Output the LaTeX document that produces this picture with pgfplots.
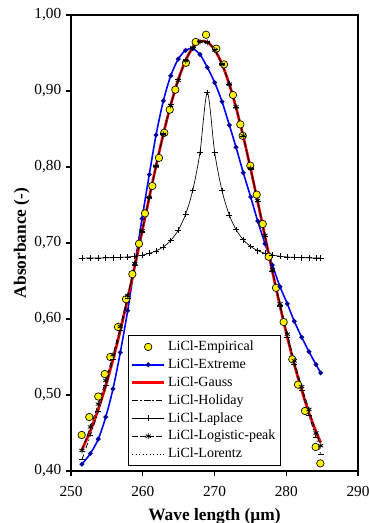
\documentclass[border=0pt]{standalone}
\usepackage{fontspec}
\setmainfont{Liberation Serif}
\usepackage{pgfplots}
\pgfplotsset{compat=1.18}
\usepackage{pgfplotstable}
\pgfplotstableread{
x y
251.49 0.4474
252.55 0.471
253.80 0.498
254.70 0.5276
255.48 0.550
256.55 0.5895
257.67 0.626
258.55 0.659
259.48 0.699
260.31 0.739
261.33 0.775
262.26 0.812
263.00 0.845
263.76 0.8754
264.54 0.9017
266.03 0.9372
267.38 0.9645
268.82 0.974
270.25 0.9557
271.32 0.935
272.58 0.8947
273.60 0.856
273.93 0.841
274.99 0.8017
275.88 0.7636
276.72 0.725
277.55 0.682
278.57 0.641
279.64 0.596
280.84 0.547
281.64 0.5136
282.61 0.479
284.10 0.4316
284.75 0.410
}\empirical
\pgfplotstableread{
x extreme gauss holiday laplace logistic lorentz
251.53 0.409  0.4281 0.415  0.6801 0.427  0.4281
252.70 0.423  0.4529 0.447  0.6802 0.458  0.4529
253.80 0.442  0.4811 0.478  0.6803 0.488  0.4811
254.84 0.471  0.5122 0.5122 0.6804 0.519  0.5122
255.85 0.508  0.5464 0.5464 0.6807 0.553  0.5464
256.87 0.556  0.5847 0.5847 0.6811 0.590  0.5847
257.90 0.611  0.6268 0.6268 0.6817 0.631  0.6268
258.90 0.672  0.6700 0.6700 0.6826 0.673  0.6700
259.90 0.732  0.7146 0.7146 0.6840 0.716  0.7146
260.91 0.790  0.7600 0.7600 0.6863 0.760  0.7600
261.85 0.842  0.8012 0.8012 0.6895 0.801  0.8012
262.87 0.887  0.8434 0.8434 0.6948 0.843  0.8434
263.90 0.920  0.8818 0.8818 0.7033 0.881  0.8818
264.95 0.942  0.9150 0.9150 0.7169 0.914  0.9150
265.98 0.9535 0.9404 0.9404 0.7380 0.940  0.9404
266.96 0.9557 0.9568 0.9568 0.7691 0.957  0.9568
267.98 0.948  0.9652 0.9652 0.8194 0.965  0.9652
269.00 0.931  0.9644 0.9644 0.8980 0.964  0.9644
270.03 0.911  0.9542 0.9542 0.8188 0.954  0.9542
271.05 0.886  0.9354 0.9354 0.7687 0.935  0.9354
272.07 0.855  0.9087 0.9087 0.7367 0.909  0.9087
273.00 0.826  0.8783 0.8783 0.7177 0.879  0.8783
274.01 0.7925 0.8402 0.8402 0.7042 0.841  0.8402
275.04 0.7605 0.7973 0.7973 0.6954 0.798  0.7973
276.02 0.729  0.7542 0.7542 0.6900 0.756  0.7542
277.04 0.699  0.7083 0.7083 0.6864 0.710  0.7083
278.06 0.671  0.6629 0.6629 0.6841 0.665  0.6629
279.13 0.6425 0.6171 0.6171 0.6826 0.620  0.6171
280.15 0.620  0.5761 0.5761 0.6816 0.580  0.5761
281.12 0.597  0.5403 0.5403 0.6811 0.545  0.5403
282.15 0.576  0.5062 0.5062 0.6807 0.511  0.5062
283.17 0.557  0.4765 0.473  0.6804 0.481  0.4765
284.15 0.540  0.4518 0.444  0.6803 0.450  0.4518
284.80 0.529  0.4375 0.422  0.6802 0.4333 0.4375
}\fits
\begin{document}
\begin{tikzpicture}
\useasboundingbox (-53.25pt,-39pt) rectangle (222.75pt,353.25pt);
\begin{axis}[
  at={(0,0)}, anchor=south west,
  width=215.25pt, height=342pt, scale only axis,
  xmin=250, xmax=290, ymin=0.4, ymax=1.0,
  xtick={250,260,270,280,290},
  ytick={0.4,0.5,0.6,0.7,0.8,0.9,1.0},
  xtick pos=lower, ytick pos=left,
  tick align=outside, major tick length=3.75pt,
  tick style={black, line width=0.8pt},
  axis line style={line width=1.1pt},
  /pgf/number format/assume math mode=true,
  xticklabel style={font=\fontsize{11.5}{13}\selectfont, yshift=-4pt, /pgf/number format/1000 sep={}},
  yticklabel style={font=\fontsize{11.5}{13}\selectfont, /pgf/number format/.cd, fixed, fixed zerofill, precision=2, use comma},
  xlabel={\textbf{Wave length (µm)}},
  ylabel={\textbf{Absorbance (-)}},
  xlabel style={font=\fontsize{13}{15}\selectfont, at={(axis description cs:0.5,-0.1)}, anchor=center},
  ylabel style={font=\fontsize{13}{15}\selectfont, at={(axis description cs:-0.172,0.5)}, anchor=center},
  legend style={at={(rel axis cs:0.1976,0.0116)}, anchor=south west, draw=black, line width=0.8pt,
    font=\fontsize{10.5}{12}\selectfont, row sep=0.6pt, inner sep=2pt},
  legend cell align=left,
  legend image code/.code={\draw[mark repeat=2,mark phase=2,#1] plot coordinates {(0cm,0cm) (0.42cm,0cm) (0.84cm,0cm)};},
]
\addplot[only marks, mark=*, mark size=2.8pt, mark options={fill=yellow, draw=black, line width=0.5pt}] table[x=x,y=y] {\empirical};
\addlegendentry{LiCl-Empirical}
\addplot[color=blue, line width=1.2pt, smooth, mark=*, mark size=1.1pt, mark options={fill=blue!60!black, draw=blue!60!black}] table[x=x,y=extreme] {\fits};
\addlegendentry{LiCl-Extreme}
\addplot[color=red, line width=2pt, smooth] table[x=x,y=gauss] {\fits};
\addlegendentry{LiCl-Gauss}
\addplot[color=black, line width=0.6pt, smooth, dash pattern=on 4pt off 2pt on 1pt off 2pt, mark=-, mark size=2.2pt, mark options={solid, line width=0.9pt}] table[x=x,y=holiday] {\fits};
\addlegendentry{LiCl-Holiday}
\addplot[color=black, line width=0.5pt, smooth, mark=+, mark size=2.2pt, mark options={solid, line width=0.6pt}] table[x=x,y=laplace] {\fits};
\addlegendentry{LiCl-Laplace}
\addplot[color=black, line width=0.6pt, smooth, dash pattern=on 4pt off 2pt, mark=asterisk, mark size=2.2pt, mark options={solid, line width=0.6pt}] table[x=x,y=logistic] {\fits};
\addlegendentry{LiCl-Logistic-peak}
\addplot[color=black, line width=0.6pt, smooth, dotted] table[x=x,y=lorentz] {\fits};
\addlegendentry{LiCl-Lorentz}
\end{axis}
\end{tikzpicture}
\end{document}
